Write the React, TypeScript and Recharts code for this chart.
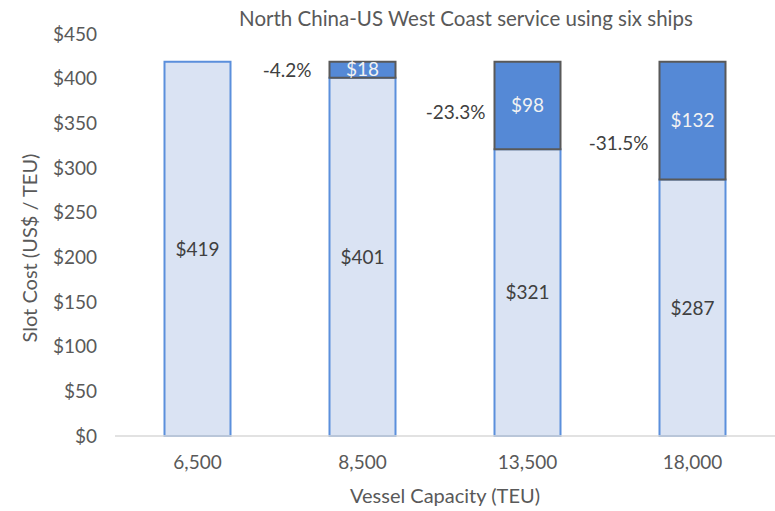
import React from 'react';
import { BarChart, Bar, XAxis, YAxis, LabelList } from 'recharts';

const capacities = ['6,500', '8,500', '13,500', '18,000'];
const slotCost = [419, 401, 321, 287];
const savings = [null, 18, 98, 132];
const changeLabels = ['', '-4.2%', '-23.3%', '-31.5%'];
const yTicks = [0, 50, 100, 150, 200, 250, 300, 350, 400, 450];

const data = capacities.map((c, i) => ({
  name: c,
  cost: slotCost[i],
  saving: savings[i],
  change: changeLabels[i],
}));

const FONT = 'Lato, "Open Sans", sans-serif';
const GREY = '#595959';
// small nudges for the % labels, as placed in the source chart
const pctDy = [0, 0, 6, 22];
const pctDx = [0, 18, 9, 11];

const ChangeLabel = (props: any) => {
  const { x, y, height, value } = props;
  const i = changeLabels.indexOf(value);
  if (!value || i < 0) return null;
  return (
    <text
      x={x - pctDx[i]}
      y={y + height / 2 + pctDy[i]}
      textAnchor="end"
      dominantBaseline="central"
      fill="#404040"
      fontSize={19}
      fontFamily={FONT}
    >
      {value}
    </text>
  );
};

const YLabel = () => (
  <text
    x={29}
    y={248}
    transform="rotate(-90, 29, 248)"
    textAnchor="middle"
    dominantBaseline="central"
    fill={GREY}
    fontSize={20}
    fontFamily={FONT}
  >
    Slot Cost (US$ / TEU)
  </text>
);

export default function App() {
  return (
    <div style={{ position: 'absolute', left: 0, top: 0, background: '#fff' }}>
      <BarChart
        width={775}
        height={511}
        data={data}
        margin={{ top: 34, right: 0, bottom: 0, left: 0 }}
        barCategoryGap="30%"
      >
        <text
          x={466}
          y={18}
          textAnchor="middle"
          dominantBaseline="central"
          fill={GREY}
          fontSize={20.5}
          fontFamily={FONT}
        >
          North China-US West Coast service using six ships
        </text>
        <YLabel />
        <XAxis
          dataKey="name"
          height={75}
          tickLine={false}
          axisLine={{ stroke: '#d9d9d9', strokeWidth: 1.5 }}
          tick={{ fill: GREY, fontSize: 19, fontFamily: FONT }}
          tickMargin={14}
          label={{
            value: 'Vessel Capacity (TEU)',
            position: 'insideBottom',
            offset: 8,
            fill: GREY,
            fontSize: 20,
            fontFamily: FONT,
          }}
        />
        <YAxis
          width={115}
          domain={[0, 450]}
          ticks={yTicks}
          interval={0}
          tickLine={false}
          axisLine={false}
          tickFormatter={(v: number) => `$${v}`}
          tick={{ fill: GREY, fontSize: 19, fontFamily: FONT }}
          tickMargin={12}
        />
        <Bar
          dataKey="cost"
          stackId="a"
          fill="#dae3f3"
          stroke="#5b8fdc"
          strokeWidth={2}
          isAnimationActive={false}
        >
          <LabelList
            dataKey="cost"
            position="center"
            formatter={(v: any) => `$${v}`}
            fill="#404040"
            fontSize={19}
            fontFamily={FONT}
          />
        </Bar>
        <Bar
          dataKey="saving"
          stackId="a"
          fill="#5589d6"
          stroke="#595959"
          strokeWidth={2}
          isAnimationActive={false}
        >
          <LabelList
            dataKey="saving"
            position="center"
            formatter={(v: any) => (v == null ? '' : `$${v}`)}
            fill="#f2f2f2"
            fontSize={19}
            fontFamily={FONT}
          />
          <LabelList dataKey="change" content={<ChangeLabel />} />
        </Bar>
      </BarChart>
    </div>
  );
}
